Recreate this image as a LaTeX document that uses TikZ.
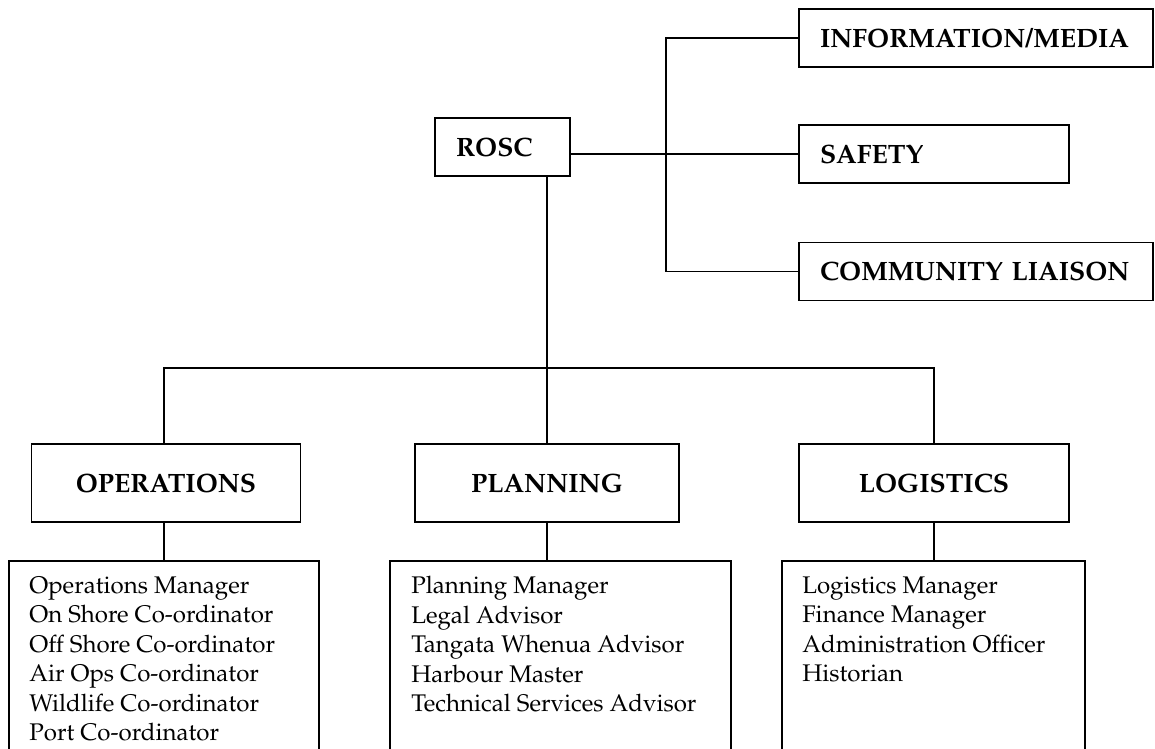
\documentclass[tikz,border=0pt]{standalone}
\usepackage[T1]{fontenc}
\usepackage{mathpazo}
\usepackage{tikz}
\usetikzlibrary{positioning,calc}

\begin{document}
\begin{tikzpicture}[
    x=0.02cm, y=-0.02cm,
    every node/.style={font=\fontsize{13.7}{16.8}\selectfont},
    head/.style={draw,line width=1pt,minimum height=1.56cm,inner sep=0pt,font=\bfseries\fontsize{15.1}{18}\selectfont},
    side/.style={draw,line width=1pt,minimum height=1.16cm,inner xsep=0.42cm,inner ysep=0pt,align=left,font=\bfseries\fontsize{15.1}{18}\selectfont},
    listbox/.style={draw,line width=1pt,minimum height=4.8cm,anchor=north west,inner sep=0pt},
    listtext/.style={anchor=north west,align=left,inner sep=0pt},
    link/.style={line width=1pt}
]
\useasboundingbox (0,0) rectangle (1155,749);
\clip (0,0) rectangle (1155,749);

% top
\node[side,text width=1.86cm] (rosc) at (502.5,147) {ROSC};
\node[side,text width=6.24cm] (info) at (976,38) {\mbox{INFORMATION/MEDIA}};
\node[side,text width=4.56cm] (safety) at (934,154) {SAFETY};
\node[side,text width=6.24cm] (comm) at (976,271.5) {\mbox{COMMUNITY LIAISON}};

% sections
\node[head,minimum width=5.38cm] (ops) at (166,483) {OPERATIONS};
\node[head,minimum width=5.28cm] (plan) at (547,483) {PLANNING};
\node[head,minimum width=5.40cm] (log) at (934,483) {LOGISTICS};

\node[listbox,minimum width=6.20cm] (opsbox) at (8,560) {};
\node[listbox,minimum width=6.82cm] (planbox) at (389,560) {};
\node[listbox,minimum width=6.06cm] (logbox) at (781,560) {};

\node[listtext] (opslist) at ($(opsbox.north west)+(21,16)$) {Operations Manager\\On Shore Co-ordinator\\Off Shore Co-ordinator\\Air Ops Co-ordinator\\Wildlife Co-ordinator\\Port Co-ordinator};
\node[listtext] (planlist) at ($(planbox.north west)+(22,16)$) {Planning Manager\\Legal Advisor\\Tangata Whenua Advisor\\Harbour Master\\Technical Services Advisor};
\node[listtext] (loglist) at ($(logbox.north west)+(21,16)$) {Logistics Manager\\Finance Manager\\Administration Officer\\Historian};

% lines
\coordinate (spine) at (666,0);
\coordinate (bus) at (547,368);
\draw[link] (info.west) -- (info.west -| spine) -- (comm.west -| spine) -- (comm.west);
\draw[link] (safety.west) -- (safety.west -| rosc.east);
\draw[link] (plan.north) -- (plan.north |- rosc.south);
\draw[link] (ops.north -| opsbox.north) |- (bus) -| (log.north);
\draw[link] (ops.south -| opsbox.north) -- (opsbox.north);
\draw[link] (plan.south) -- (plan.south |- planbox.north);
\draw[link] (log.south) -- (log.south |- logbox.north);
\end{tikzpicture}
\end{document}
